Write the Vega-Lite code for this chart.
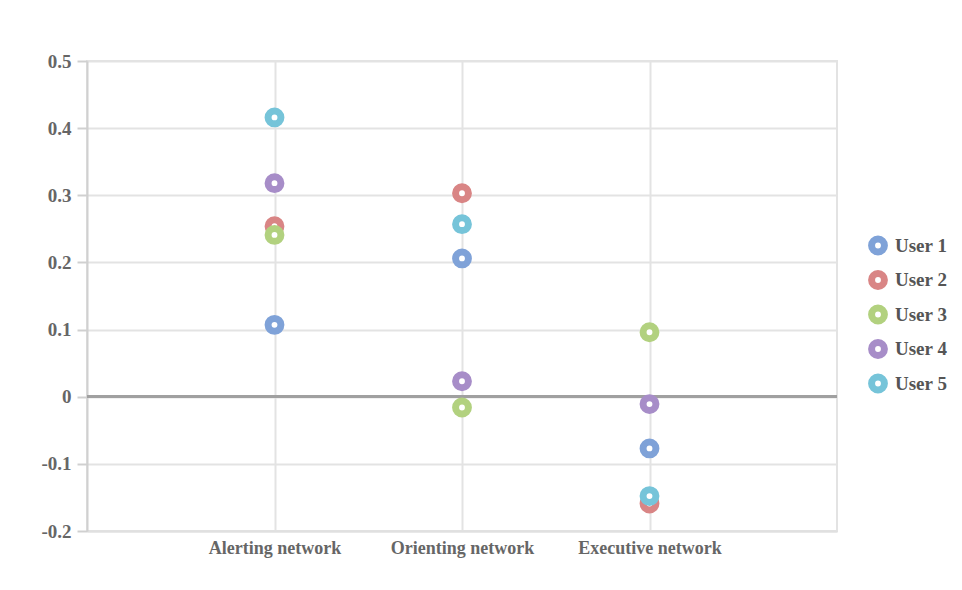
{
  "$schema": "https://vega.github.io/schema/vega-lite/v6.json",
  "width": 750,
  "height": 470,
  "autosize": {"type": "none"},
  "padding": {"left": 87, "top": 61, "right": 125, "bottom": 59},
  "background": "white",
  "config": {
    "font": "Liberation Serif",
    "view": {"stroke": "#e3e3e3", "strokeWidth": 2}
  },
  "data": {
    "values": [
      {"network": "Alerting network", "user": "User 1", "value": 0.107},
      {"network": "Alerting network", "user": "User 2", "value": 0.254},
      {"network": "Alerting network", "user": "User 3", "value": 0.241},
      {"network": "Alerting network", "user": "User 4", "value": 0.318},
      {"network": "Alerting network", "user": "User 5", "value": 0.416},
      {"network": "Orienting network", "user": "User 1", "value": 0.206},
      {"network": "Orienting network", "user": "User 2", "value": 0.303},
      {"network": "Orienting network", "user": "User 3", "value": -0.016},
      {"network": "Orienting network", "user": "User 4", "value": 0.023},
      {"network": "Orienting network", "user": "User 5", "value": 0.257},
      {"network": "Executive network", "user": "User 1", "value": -0.077},
      {"network": "Executive network", "user": "User 2", "value": -0.159},
      {"network": "Executive network", "user": "User 3", "value": 0.096},
      {"network": "Executive network", "user": "User 4", "value": -0.011},
      {"network": "Executive network", "user": "User 5", "value": -0.148}
    ]
  },
  "layer": [
    {
      "mark": {"type": "rule", "color": "#a0a0a0", "strokeWidth": 2},
      "encoding": {"y": {"datum": 0, "type": "quantitative", "scale": {"domain": [-0.2, 0.5], "nice": false}}}
    },
    {
      "mark": {"type": "point", "shape": "circle", "filled": false, "fill": "white", "fillOpacity": 1, "strokeWidth": 7, "size": 165, "opacity": 1},
      "encoding": {
        "x": {
          "field": "network",
          "type": "nominal",
          "sort": null,
          "scale": {"type": "point", "padding": 1},
          "axis": {
            "title": null,
            "labelAngle": 0,
            "labelFontSize": 18,
            "labelFontWeight": "bold",
            "labelColor": "#666666",
            "labelPadding": 8,
            "ticks": false,
            "grid": true,
            "gridColor": "#e3e3e3",
            "gridWidth": 2,
            "domainColor": "#e0e0e0",
            "domainWidth": 2
          }
        },
        "y": {
          "field": "value",
          "type": "quantitative",
          "scale": {"domain": [-0.2, 0.5], "nice": false, "zero": false},
          "axis": {
            "title": null,
            "values": [-0.2, -0.1, 0, 0.1, 0.2, 0.3, 0.4, 0.5],
            "format": ".1~f",
            "labelExpr": "replace(datum.label, '−', '-')",
            "labelFontSize": 19,
            "labelFontWeight": "bold",
            "labelColor": "#666666",
            "labelPadding": 6,
            "labelFlush": false,
            "tickSize": 10,
            "tickColor": "#d0d0d0",
            "tickWidth": 2,
            "domainColor": "#d0d0d0",
            "domainWidth": 2,
            "grid": true,
            "gridColor": "#e3e3e3",
            "gridWidth": 2
          }
        },
        "color": {
          "field": "user",
          "type": "nominal",
          "scale": {
            "domain": ["User 1", "User 2", "User 3", "User 4", "User 5"],
            "range": ["#7fa2d8", "#d98585", "#b2d17f", "#a78dc8", "#76c4d9"]
          },
          "legend": {
            "title": null,
            "orient": "none",
            "legendX": 781,
            "legendY": 174,
            "symbolType": "circle",
            "symbolSize": 165,
            "symbolStrokeWidth": 7,
            "symbolFillColor": "white",
            "labelFontSize": 19,
            "labelFontWeight": "bold",
            "labelColor": "#555555",
            "labelOffset": 7,
            "clipHeight": 21,
            "rowPadding": 13.5
          }
        }
      }
    }
  ]
}
